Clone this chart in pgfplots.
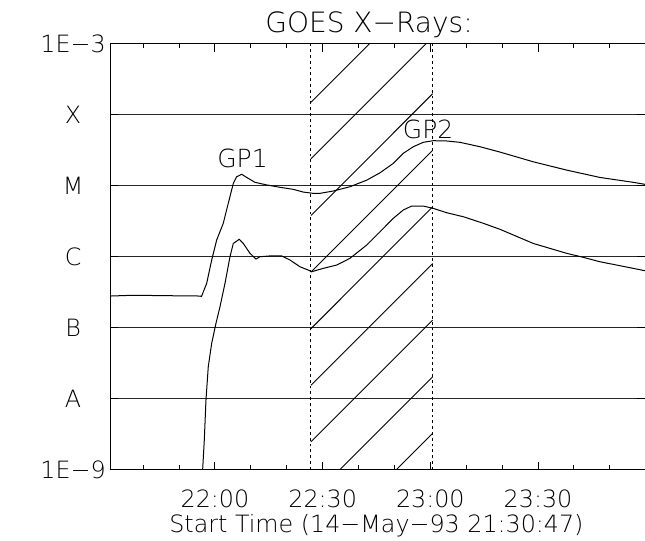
\documentclass[border=0pt]{standalone}
\usepackage{fontspec}
\setmainfont{DejaVu Sans ExtraLight}
\usepackage{pgfplots}
\pgfplotsset{compat=1.18}
\newcommand{\tickfont}{\fontsize{11.9}{14}\selectfont}
\begin{document}
\begin{tikzpicture}
\begin{axis}[
  scale only axis, width=267.4pt, height=213pt,
  xmin=-29.217, xmax=119.8,
  ymode=log, ymin=1e-9, ymax=1e-3,
  axis line style={draw=none},
  xtick={0,30,60,90}, xticklabels={22:00,22:30,23:00,23:30},
  minor xtick={-20,-10,10,20,40,50,70,80,100,110},
  ytick={1e-9,1e-8,1e-7,1e-6,1e-5,1e-4,1e-3},
  yticklabels={1E−9,A,B,C,M,X,1E−3},
  yminorticks=false,
  ymajorgrids, grid style={black!85,line width=0.6pt},
  tick align=inside, major tick length=4pt, minor tick length=2.2pt,
  tick style={black,line width=0.5pt},
  xticklabel style={anchor=base,yshift=-18.9pt,font=\tickfont},
  yticklabel style={anchor=center,xshift=-18.5pt,font=\tickfont},
]
% long channel
\addplot[black,line width=0.5pt] coordinates {
(-29.05,2.78e-7)(-22.76,2.85e-7)(-13.45,2.81e-7)(-4.18,2.78e-7)(-3.76,2.74e-7)
(-2.31,4.20e-7)(-0.92,8.93e-7)(0.47,1.71e-6)(2.31,2.94e-6)(3.70,5.61e-6)
(5.10,1.07e-5)(6.04,1.33e-5)(7.44,1.44e-5)(8.83,1.30e-5)(11.14,1.11e-5)
(14.40,1.02e-5)(18.11,9.44e-6)(21.81,8.84e-6)(24.60,8.09e-6)(27.38,7.76e-6)
(29.25,7.76e-6)(32.95,8.37e-6)(37.60,9.62e-6)(42.26,1.19e-5)(45.96,1.51e-5)
(49.67,2.05e-5)(52.45,2.84e-5)(55.24,3.52e-5)(58.02,4.06e-5)(60.81,4.28e-5)
(64.54,4.24e-5)(68.25,4.06e-5)(73.82,3.52e-5)(79.39,2.96e-5)(88.66,2.16e-5)
(97.97,1.65e-5)(107.24,1.30e-5)(116.52,1.11e-5)(119.78,1.04e-5)};
% short channel
\addplot[black,line width=0.5pt] coordinates {
(-3.76,7.1e-10)(-3.43,1.01e-9)(-2.98,2.60e-9)(-2.51,9.52e-9)(-1.87,2.81e-8)
(-0.92,5.99e-8)(0.28,1.15e-7)(1.39,1.96e-7)(2.79,4.20e-7)(4.18,9.93e-7)
(5.10,1.53e-6)(6.77,1.75e-6)(7.88,1.53e-6)(9.75,1.11e-6)(11.42,9.22e-7)
(12.53,9.93e-7)(15.32,1.02e-6)(18.58,1.02e-6)(20.89,8.93e-7)(23.68,7.18e-7)
(25.99,6.45e-7)(26.94,6.11e-7)(30.17,6.82e-7)(33.90,7.59e-7)(37.60,9.44e-7)
(42.26,1.45e-6)(45.96,2.23e-6)(49.67,3.45e-6)(52.45,4.52e-6)(54.79,5.14e-6)
(58.02,5.14e-6)(60.81,4.77e-6)(64.54,4.14e-6)(69.16,3.64e-6)(74.74,2.94e-6)
(79.39,2.42e-6)(88.66,1.53e-6)(97.97,1.11e-6)(102.59,9.75e-7)(107.24,8.45e-7)
(116.52,6.82e-7)(119.78,6.31e-7)};
% interval boundaries
\addplot[black,line width=0.5pt,dash pattern=on 1.4pt off 1.5pt] coordinates {(26.74,1e-9)(26.74,1e-3)};
\addplot[black,line width=0.5pt,dash pattern=on 1.4pt off 1.5pt] coordinates {(60.64,1e-9)(60.64,1e-3)};
% hatching
\addplot[black,line width=0.45pt] coordinates {(26.74,1.490e-4)(43.09,1e-3)};
\addplot[black,line width=0.45pt] coordinates {(26.74,2.377e-5)(58.86,1e-3)};
\addplot[black,line width=0.45pt] coordinates {(26.74,3.792e-6)(60.64,1.963e-4)};
\addplot[black,line width=0.45pt] coordinates {(26.74,6.049e-7)(60.64,3.131e-5)};
\addplot[black,line width=0.45pt] coordinates {(26.74,9.649e-8)(60.64,4.995e-6)};
\addplot[black,line width=0.45pt] coordinates {(26.74,1.539e-8)(60.64,7.968e-7)};
\addplot[black,line width=0.45pt] coordinates {(26.74,2.455e-9)(60.64,1.271e-7)};
\addplot[black,line width=0.45pt] coordinates {(34.79,1e-9)(60.64,2.028e-8)};
\addplot[black,line width=0.45pt] coordinates {(50.56,1e-9)(60.64,3.235e-9)};
% frame (right side lies beyond the picture)
\draw[black,line width=0.7pt] (rel axis cs:1,1) -- (rel axis cs:0,1) -- (rel axis cs:0,0) -- (rel axis cs:1,0);
\end{axis}
\node[anchor=base,font=\fontsize{14}{16}\selectfont] at (129.45pt,218.25pt) {GOES X−Rays:};
\node[anchor=base,font=\tickfont] at (133.15pt,-31.6pt) {Start Time (14−May−93 21:30:47)};
\node[anchor=base,font=\fontsize{12.5}{15}\selectfont] at (66.2pt,151pt) {GP1};
\node[anchor=base,font=\fontsize{12.5}{15}\selectfont] at (158.95pt,165.5pt) {GP2};
\pgfresetboundingbox
\path[use as bounding box] (-55.05pt,-35.25pt) rectangle (267.4pt,234.75pt);
\end{tikzpicture}
\end{document}
